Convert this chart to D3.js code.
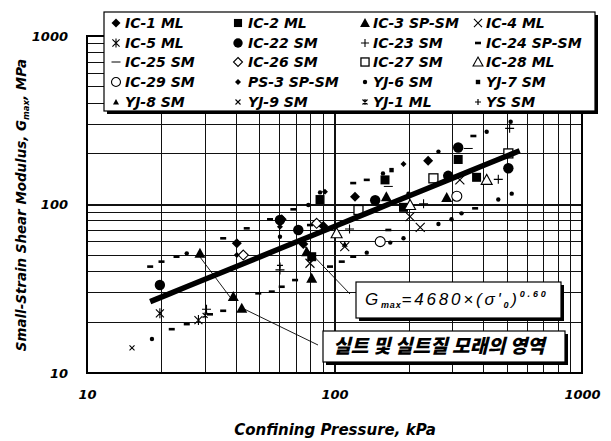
<!DOCTYPE html>
<html><head><meta charset="utf-8">
<script src="https://cdn.jsdelivr.net/npm/d3@7"></script>
<style>body{margin:0;background:#fff}svg{display:block}</style>
</head><body>
<svg id="c" width="611" height="441"></svg>
<script>
// ---------- data (confining pressure kPa, Gmax MPa) ----------
const xTicks = [10, 100, 1000];
const yTicks = [10, 100, 1000];
const seriesNames = ["IC-1 ML","IC-2 ML","IC-3 SP-SM","IC-4 ML",
  "IC-5 ML","IC-22 SM","IC-23 SM","IC-24 SP-SM",
  "IC-25 SM","IC-26 SM","IC-27 SM","IC-28 ML",
  "IC-29 SM","PS-3 SP-SM","YJ-6 SM","YJ-7 SM",
  "YJ-8 SM","YJ-9 SM","YJ-1 ML","YS SM"];
const seriesSymbols = ["diamondF","squareF","triF","x",
  "asterisk","circleF","plus","dash",
  "dashThin","diamondO","squareO","triO",
  "circleO","diamondS","dot","squareS",
  "triS","xS","starS","plusS"];
const IC1 = [[239,182],[121,111],[90.1,74.5],[40.3,58.8],[61.2,81.7],[74.8,58.3]];
const IC2 = [[316,185],[160,140],[87.4,107],[80.9,49.0],[375,145],[190,96.2]];
const IC3 = [[162,111],[284,110],[80.9,36.5],[28.6,51.3],[39.0,28.4],[42.2,24.2],[77.2,52.5]];
const IC4 = [[321,140],[222,73.2],[110,56.2],[79.6,44.8],[202,84.7]];
const IC5 = [[19.7,22.6],[28.2,20.6]];
const IC22 = [[288,148],[146,106],[71.4,70.6],[504,164],[316,218],[19.7,33.3],[60.2,80.9]];
const IC23 = [[229,101],[115,71.5],[459,141],[30.4,23.9],[60.2,40.9],[510,283]];
const IC24 = [[35.5,63.0],[370,94.9],[79.6,75.5],[55.8,30.4],[364,255],[135,140],[119,134],
  [68.2,93.6],[54.9,81.7],[44.2,72.2],[165,70.6],[119,49.0],[107,45.8],[95.9,42.8],
  [23.0,49.0],[20.0,45.8],[18.0,42.8],[22.0,18.2],[25.3,19.5],[31.4,22.3],[35.5,23.4],
  [61.2,32.5],[49.2,29.7],[69.3,35.6]];
const IC25 = [[347,215],[165,128]];
const IC26 = [[84.7,77.3],[42.8,50.1]];
const IC27 = [[251,143],[125,92.8],[504,201]];
const IC28 = [[412,140],[202,99.3],[102,67.5]];
const IC29 = [[312,112],[153,60.2]];
const PS3 = [[40.3,50.1],[190,174],[91.5,119],[60.2,73.8]];
const YJ6 = [[412,270],[263,206],[199,116],[459,107],[326,88.6],[297,81.7],[263,76.6],
  [190,63.0],[168,59.4],[135,51.8],[87.4,118],[78.4,99.3],[60.2,64.4],[25.3,51.3],
  [18.3,15.9],[515,310],[157,153],[520,116]];
const YJ7 = [[170,160]];
const YJ8 = [[110,58.0]];
const YJ9 = [[15.2,14.1]];
const YJ1 = [[30.0,22.0]];
const YS = [[60.2,43.5]];
const seriesData = [IC1,IC2,IC3,IC4,IC5,IC22,IC23,IC24,IC25,IC26,IC27,IC28,IC29,PS3,YJ6,YJ7,YJ8,YJ9,YJ1,YS];
// fitted curve: Gmax = 4680 x (sigma'0)^0.60 (plotted in kPa / MPa)
const fitCoef = 4.68, fitExp = 0.60;
const fitRange = [18, 560];

// ---------- layout ----------
const svg = d3.select("#c");
const L = 87, R = 582, T = 36, B = 373;
const x = d3.scaleLog().domain([10,1000]).range([L,R]);
const y = d3.scaleLog().domain([10,1000]).range([B,T]);
const FONT = "'DejaVu Sans', 'Liberation Sans', sans-serif";

function fitWidth(t, w){
  const len = t.node().getComputedTextLength();
  const fs = parseFloat(t.attr("font-size"));
  t.attr("font-size", fs*w/len);
}

// grid
const gridVals = [];
for (let k = 10; k < 1000; k *= 10) for (let m = 1; m <= 9; m++) gridVals.push(m*k);
gridVals.push(1000);
const grid = svg.append("g").attr("stroke","#111").attr("shape-rendering","crispEdges");
grid.selectAll(".vx").data(gridVals).join("line")
  .attr("x1",d=>x(d)).attr("x2",d=>x(d)).attr("y1",T).attr("y2",B)
  .attr("stroke-width",d=>[10,100,1000].includes(d)?2:1);
grid.selectAll(".hy").data(gridVals).join("line")
  .attr("y1",d=>y(d)).attr("y2",d=>y(d)).attr("x1",L).attr("x2",R)
  .attr("stroke-width",d=>[10,100,1000].includes(d)?2:1);
svg.append("rect").attr("x",L).attr("y",T).attr("width",R-L).attr("height",B-T)
  .attr("fill","none").attr("stroke","#000").attr("stroke-width",2);

// axes
const xAxis = svg.append("g").attr("transform",`translate(0,${B})`)
  .call(d3.axisBottom(x).tickValues(xTicks).tickSize(0).tickPadding(17).tickFormat(d3.format("d")));
const yAxis = svg.append("g").attr("transform",`translate(${L},0)`)
  .call(d3.axisLeft(y).tickValues(yTicks).tickSize(0).tickPadding(19).tickFormat(d3.format("d")));
[xAxis,yAxis].forEach(a=>{
  a.select(".domain").remove();
  a.selectAll("text").attr("font-family",FONT).attr("font-size",13)
    .attr("font-weight","bold").attr("font-style","italic").attr("fill","#000");
});

// marker painter
function marker(g, type, s) {
  const k = s || 1;
  const P = (d)=>g.append("path").attr("d",d);
  switch(type){
    case "diamondF": P(`M0,${-5*k}L${5*k},0L0,${5*k}L${-5*k},0Z`).attr("fill","#000"); break;
    case "diamondO": P(`M0,${-5*k}L${5*k},0L0,${5*k}L${-5*k},0Z`).attr("fill","#fff").attr("stroke","#000").attr("stroke-width",1.1); break;
    case "diamondS": P(`M0,-3L3,0L0,3L-3,0Z`).attr("fill","#000"); break;
    case "squareF": g.append("rect").attr("x",-4.5*k).attr("y",-4.5*k).attr("width",9*k).attr("height",9*k).attr("fill","#000"); break;
    case "squareO": g.append("rect").attr("x",-4.5*k).attr("y",-4.5*k).attr("width",9*k).attr("height",9*k).attr("fill","#fff").attr("stroke","#000").attr("stroke-width",1.3); break;
    case "squareS": g.append("rect").attr("x",-2.2).attr("y",-2.2).attr("width",4.4).attr("height",4.4).attr("fill","#000"); break;
    case "triF": P(`M0,${-5.5*k}L${5.5*k},${4.5*k}L${-5.5*k},${4.5*k}Z`).attr("fill","#000"); break;
    case "triO": P(`M0,${-5.5*k}L${5.5*k},${4.5*k}L${-5.5*k},${4.5*k}Z`).attr("fill","#fff").attr("stroke","#000").attr("stroke-width",1.1); break;
    case "triS": P(`M0,-3L3,2.5L-3,2.5Z`).attr("fill","#000"); break;
    case "circleF": g.append("circle").attr("r",5.2*k).attr("fill","#000"); break;
    case "circleO": g.append("circle").attr("r",5*k).attr("fill","#fff").attr("stroke","#000").attr("stroke-width",1.1); break;
    case "dot": g.append("circle").attr("r",2.2).attr("fill","#000"); break;
    case "x": P(`M${-4.5*k},${-4.5*k}L${4.5*k},${4.5*k}M${4.5*k},${-4.5*k}L${-4.5*k},${4.5*k}`).attr("stroke","#000").attr("stroke-width",1.1); break;
    case "xS": P(`M-2.5,-2.5L2.5,2.5M2.5,-2.5L-2.5,2.5`).attr("stroke","#000").attr("stroke-width",1.1); break;
    case "asterisk": P(`M${-4*k},${-4*k}L${4*k},${4*k}M${4*k},${-4*k}L${-4*k},${4*k}M0,${-5*k}L0,${5*k}`).attr("stroke","#000").attr("stroke-width",1.1); break;
    case "starS": P(`M-2.5,-2.5L2.5,2.5M2.5,-2.5L-2.5,2.5M0,-3L0,3`).attr("stroke","#000").attr("stroke-width",1.2); break;
    case "plus": P(`M${-4.5*k},0L${4.5*k},0M0,${-4.5*k}L0,${4.5*k}`).attr("stroke","#000").attr("stroke-width",1.1); break;
    case "plusS": P(`M-3,0L3,0M0,-3L0,3`).attr("stroke","#000").attr("stroke-width",1.2); break;
    case "dash": g.append("rect").attr("x",-3).attr("y",-1.3).attr("width",6).attr("height",2.6).attr("fill","#000"); break;
    case "dashThin": P(`M-4.5,0L4.5,0`).attr("stroke","#000").attr("stroke-width",1); break;
  }
}

// data markers
const pts = svg.append("g");
seriesData.forEach((arr,i)=>{
  arr.forEach(d=>{
    const g = pts.append("g").attr("transform",`translate(${x(d[0])},${y(d[1])})`);
    marker(g, seriesSymbols[i], 1);
  });
});

// fit line
const fitPts = d3.range(0, 21).map(i=>{
  const lx = Math.log10(fitRange[0]) + i/20*(Math.log10(fitRange[1])-Math.log10(fitRange[0]));
  const s = Math.pow(10,lx); return [s, fitCoef*Math.pow(s,fitExp)];
});
svg.append("path").datum(fitPts)
  .attr("d", d3.line().x(d=>x(d[0])).y(d=>y(d[1])))
  .attr("fill","none").attr("stroke","#000").attr("stroke-width",5.5).attr("stroke-linecap","butt");

// pointer lines
const ptr = svg.append("g").attr("stroke","#000").attr("stroke-width",0.9);
[[350,294,303,245],[318,345,240,307],[230,297,200,257]].forEach(p=>
  ptr.append("line").attr("x1",p[0]).attr("y1",p[1]).attr("x2",p[2]).attr("y2",p[3]));

// boxes with shadow
function box(x0,y0,w,h){
  svg.append("rect").attr("x",x0+3).attr("y",y0+3).attr("width",w).attr("height",h).attr("fill","#000");
  svg.append("rect").attr("x",x0).attr("y",y0).attr("width",w).attr("height",h)
    .attr("fill","#fff").attr("stroke","#000").attr("stroke-width",1.2);
}

// equation box
box(356,282,205,36);
const eq = svg.append("text").attr("x",365).attr("y",305).attr("font-family","'Liberation Sans', Arial, sans-serif")
  .attr("font-style","italic").attr("font-size",17).attr("letter-spacing",2.8).attr("fill","#000");
eq.append("tspan").text("G");
eq.append("tspan").attr("font-size",9).attr("font-weight","bold").attr("letter-spacing",0.8).attr("dy",3).text("max");
eq.append("tspan").attr("dy",-3).text("=4680×(σ'");
eq.append("tspan").attr("font-size",9).attr("font-weight","bold").attr("dy",3).text("0");
eq.append("tspan").attr("dy",-3).text(")");
eq.append("tspan").attr("font-size",9).attr("font-weight","bold").attr("dy",-8).text("0.60");

// Korean box
box(323,331,242,31);
const kt = svg.append("text").attr("x",333).attr("y",353)
  .attr("font-family","'Noto Sans CJK KR', sans-serif").attr("font-weight","900")
  .attr("font-style","italic").attr("font-size",17).attr("fill","#000")
  .text("실트 및 실트질 모래의 영역");
fitWidth(kt, 212);

// legend
box(104,12,491,99);
const colSym = [116,238,365,478], colTxt = [125,248,373,486];
const rowY = [23,43,62,82,102];
seriesNames.forEach((n,i)=>{
  const c = i%4, r = Math.floor(i/4);
  const g = svg.append("g").attr("transform",`translate(${colSym[c]},${rowY[r]})`);
  marker(g, seriesSymbols[i], 0.9);
  svg.append("text").attr("x",colTxt[c]).attr("y",rowY[r]).attr("dy","0.36em")
    .attr("font-family",FONT).attr("font-weight","bold").attr("font-style","italic")
    .attr("font-size",14).attr("fill","#000").text(n);
});

// axis titles
const xt = svg.append("text").attr("x",335).attr("y",435).attr("text-anchor","middle")
  .attr("font-family",FONT).attr("font-weight","bold").attr("font-style","italic")
  .attr("font-size",14).text("Confining Pressure, kPa");
fitWidth(xt, 202);
const yt = svg.append("text").attr("transform","translate(26,205) rotate(-90)")
  .attr("text-anchor","middle").attr("font-family",FONT).attr("font-weight","bold")
  .attr("font-style","italic").attr("font-size",12);
yt.append("tspan").text("Small-Strain Shear Modulus, G");
yt.append("tspan").attr("font-size",8.5).attr("dy",3).text("max");
yt.append("tspan").attr("dy",-3).text(", MPa");
fitWidth(yt, 295);
</script>
</body></html>
